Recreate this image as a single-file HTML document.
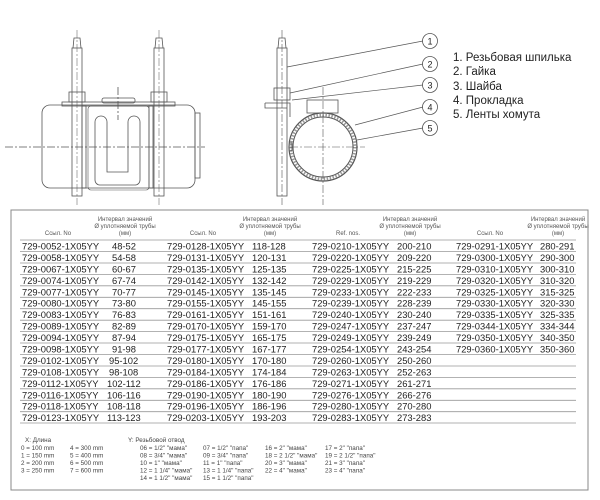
<!DOCTYPE html>
<html><head><meta charset="utf-8"><style>
html,body{margin:0;padding:0;background:#fff;}
svg{display:block;}
.c{font-family:"Liberation Sans",sans-serif;font-size:9.4px;fill:#222;}
.h{font-family:"Liberation Sans",sans-serif;font-size:6px;fill:#555;}
.l{font-family:"Liberation Sans",sans-serif;font-size:6.3px;fill:#444;}
.g{font-family:"Liberation Sans","DejaVu Sans",sans-serif;font-size:11.5px;fill:#222;}
</style></head><body>
<svg width="600" height="500" viewBox="0 0 600 500" xmlns="http://www.w3.org/2000/svg">
<g fill="none" stroke="#555" stroke-width="0.8">
<rect x="42" y="105" width="153" height="83" rx="8"/>
<rect x="195" y="113" width="5" height="65"/>
<rect x="62" y="102" width="113" height="4"/>
<rect x="102" y="98" width="33" height="5" rx="2"/>
<path d="M95 180 V122 a6 6 0 0 1 12 0 V172 h21 V122 a6 6 0 0 1 12 0 V180 a5 5 0 0 1 -5 5 H100 a5 5 0 0 1 -5 -5 Z"/>
<rect x="88" y="106" width="61" height="84" rx="3" stroke-width="0.6"/>
<rect x="72" y="48" width="10" height="148"/>
<rect x="154" y="48" width="10" height="148"/>
<path d="M73 48 L74 38 H80 L81 48 M155 48 L156 38 H162 L163 48"/>
<rect x="69" y="92" width="16" height="10"/>
<rect x="151" y="92" width="16" height="10"/>
<rect x="82" y="106" width="4" height="82"/>
<rect x="149" y="106" width="4" height="82"/>
<path d="M5 147 H205 M118 87 V120" stroke-dasharray="8 2 2 2"/>
<path d="M77 30 V205 M159 30 V205" stroke-dasharray="8 2 2 2" stroke-width="0.5"/>
<rect x="277" y="48" width="10" height="148"/>
<path d="M278 48 L279 38 H285 L286 48"/>
<rect x="274" y="88" width="16" height="12"/>
<path d="M265 103 H290 V117 M265 103 V108 H287"/>
<rect x="307" y="100" width="31" height="13"/>
<circle cx="323" cy="147" r="34" stroke-width="1.2"/>
<circle cx="323" cy="147" r="30" stroke-width="1"/>
<circle cx="323" cy="147" r="32" stroke="#999" stroke-width="3" stroke-dasharray="1.5 1.5"/>
<path d="M289 143 H292 V151 H289"/>
<path d="M282 30 V205 M323 87 V205 M290 147 H365" stroke-dasharray="8 2 2 2" stroke-width="0.6"/>
<path d="M287 67 L423 41 M290 93 L423 64 M292 100 L423 85 M355 125 L423 107 M357 140 L423 128" stroke-width="0.7"/>
<circle cx="430" cy="41" r="7.5"/><circle cx="430" cy="64" r="7.5"/><circle cx="430" cy="85" r="7.5"/><circle cx="430" cy="107" r="7.5"/><circle cx="430" cy="128" r="7.5"/>
</g>
<g font-family="Liberation Sans,sans-serif" font-size="9" fill="#222" text-anchor="middle">
<text x="430" y="44.5">1</text><text x="430" y="67.5">2</text><text x="430" y="88.5">3</text><text x="430" y="110.5">4</text><text x="430" y="131.5">5</text>
</g>
<text class="g" x="453" y="61">1. Резьбовая шпилька</text>
<text class="g" x="453" y="75">2. Гайка</text>
<text class="g" x="453" y="90">3. Шайба</text>
<text class="g" x="453" y="104">4. Прокладка</text>
<text class="g" x="453" y="118">5. Ленты хомута</text>

<rect x="11" y="210" width="577" height="280" fill="none" stroke="#888" stroke-width="1"/>
<g stroke="#999" stroke-width="0.8">
<line x1="20" y1="240" x2="576" y2="240"/><line x1="20" y1="251.5" x2="576" y2="251.5"/><line x1="20" y1="263" x2="576" y2="263"/><line x1="20" y1="274.4" x2="576" y2="274.4"/><line x1="20" y1="285.8" x2="576" y2="285.8"/><line x1="20" y1="297.3" x2="576" y2="297.3"/><line x1="20" y1="308.7" x2="576" y2="308.7"/><line x1="20" y1="320.2" x2="576" y2="320.2"/><line x1="20" y1="331.6" x2="576" y2="331.6"/><line x1="20" y1="343" x2="576" y2="343"/><line x1="20" y1="354.5" x2="576" y2="354.5"/><line x1="20" y1="366" x2="576" y2="366"/><line x1="20" y1="377.4" x2="576" y2="377.4"/><line x1="20" y1="388.8" x2="576" y2="388.8"/><line x1="20" y1="400.3" x2="576" y2="400.3"/><line x1="20" y1="411.7" x2="576" y2="411.7"/><line x1="20" y1="423" x2="576" y2="423"/>
</g>
<g class="h" text-anchor="middle">
<text x="58" y="235">Ссыл. No</text><text x="125" y="221">Интервал значений</text><text x="125" y="228">Ø уплотняемой трубы</text><text x="125" y="235">(мм)</text>
<text x="203" y="235">Ссыл. No</text><text x="270" y="221">Интервал значений</text><text x="270" y="228">Ø уплотняемой трубы</text><text x="270" y="235">(мм)</text>
<text x="348" y="235">Ref. nos.</text><text x="410" y="221">Интервал значений</text><text x="410" y="228">Ø уплотняемой трубы</text><text x="410" y="235">(мм)</text>
<text x="490" y="235">Ссыл. No</text><text x="558" y="221">Интервал значений</text><text x="558" y="228">Ø уплотняемой трубы</text><text x="558" y="235">(мм)</text>
</g>
<g class="c">
<text x="22" y="249.5">729-0052-1X05YY</text><text x="112" y="249.5">48-52</text><text x="167" y="249.5">729-0128-1X05YY</text><text x="252" y="249.5">118-128</text><text x="312" y="249.5">729-0210-1X05YY</text><text x="397" y="249.5">200-210</text><text x="456" y="249.5">729-0291-1X05YY</text><text x="540" y="249.5">280-291</text>
<text x="22" y="261">729-0058-1X05YY</text><text x="112" y="261">54-58</text><text x="167" y="261">729-0131-1X05YY</text><text x="252" y="261">120-131</text><text x="312" y="261">729-0220-1X05YY</text><text x="397" y="261">209-220</text><text x="456" y="261">729-0300-1X05YY</text><text x="540" y="261">290-300</text>
<text x="22" y="272.4">729-0067-1X05YY</text><text x="112" y="272.4">60-67</text><text x="167" y="272.4">729-0135-1X05YY</text><text x="252" y="272.4">125-135</text><text x="312" y="272.4">729-0225-1X05YY</text><text x="397" y="272.4">215-225</text><text x="456" y="272.4">729-0310-1X05YY</text><text x="540" y="272.4">300-310</text>
<text x="22" y="283.8">729-0074-1X05YY</text><text x="112" y="283.8">67-74</text><text x="167" y="283.8">729-0142-1X05YY</text><text x="252" y="283.8">132-142</text><text x="312" y="283.8">729-0229-1X05YY</text><text x="397" y="283.8">219-229</text><text x="456" y="283.8">729-0320-1X05YY</text><text x="540" y="283.8">310-320</text>
<text x="22" y="295.3">729-0077-1X05YY</text><text x="112" y="295.3">70-77</text><text x="167" y="295.3">729-0145-1X05YY</text><text x="252" y="295.3">135-145</text><text x="312" y="295.3">729-0233-1X05YY</text><text x="397" y="295.3">222-233</text><text x="456" y="295.3">729-0325-1X05YY</text><text x="540" y="295.3">315-325</text>
<text x="22" y="306.7">729-0080-1X05YY</text><text x="112" y="306.7">73-80</text><text x="167" y="306.7">729-0155-1X05YY</text><text x="252" y="306.7">145-155</text><text x="312" y="306.7">729-0239-1X05YY</text><text x="397" y="306.7">228-239</text><text x="456" y="306.7">729-0330-1X05YY</text><text x="540" y="306.7">320-330</text>
<text x="22" y="318.2">729-0083-1X05YY</text><text x="112" y="318.2">76-83</text><text x="167" y="318.2">729-0161-1X05YY</text><text x="252" y="318.2">151-161</text><text x="312" y="318.2">729-0240-1X05YY</text><text x="397" y="318.2">230-240</text><text x="456" y="318.2">729-0335-1X05YY</text><text x="540" y="318.2">325-335</text>
<text x="22" y="329.6">729-0089-1X05YY</text><text x="112" y="329.6">82-89</text><text x="167" y="329.6">729-0170-1X05YY</text><text x="252" y="329.6">159-170</text><text x="312" y="329.6">729-0247-1X05YY</text><text x="397" y="329.6">237-247</text><text x="456" y="329.6">729-0344-1X05YY</text><text x="540" y="329.6">334-344</text>
<text x="22" y="341">729-0094-1X05YY</text><text x="112" y="341">87-94</text><text x="167" y="341">729-0175-1X05YY</text><text x="252" y="341">165-175</text><text x="312" y="341">729-0249-1X05YY</text><text x="397" y="341">239-249</text><text x="456" y="341">729-0350-1X05YY</text><text x="540" y="341">340-350</text>
<text x="22" y="352.5">729-0098-1X05YY</text><text x="112" y="352.5">91-98</text><text x="167" y="352.5">729-0177-1X05YY</text><text x="252" y="352.5">167-177</text><text x="312" y="352.5">729-0254-1X05YY</text><text x="397" y="352.5">243-254</text><text x="456" y="352.5">729-0360-1X05YY</text><text x="540" y="352.5">350-360</text>
<text x="22" y="364">729-0102-1X05YY</text><text x="109" y="364">95-102</text><text x="167" y="364">729-0180-1X05YY</text><text x="252" y="364">170-180</text><text x="312" y="364">729-0260-1X05YY</text><text x="397" y="364">250-260</text>
<text x="22" y="375.4">729-0108-1X05YY</text><text x="109" y="375.4">98-108</text><text x="167" y="375.4">729-0184-1X05YY</text><text x="252" y="375.4">174-184</text><text x="312" y="375.4">729-0263-1X05YY</text><text x="397" y="375.4">252-263</text>
<text x="22" y="386.8">729-0112-1X05YY</text><text x="107" y="386.8">102-112</text><text x="167" y="386.8">729-0186-1X05YY</text><text x="252" y="386.8">176-186</text><text x="312" y="386.8">729-0271-1X05YY</text><text x="397" y="386.8">261-271</text>
<text x="22" y="398.3">729-0116-1X05YY</text><text x="107" y="398.3">106-116</text><text x="167" y="398.3">729-0190-1X05YY</text><text x="252" y="398.3">180-190</text><text x="312" y="398.3">729-0276-1X05YY</text><text x="397" y="398.3">266-276</text>
<text x="22" y="409.7">729-0118-1X05YY</text><text x="107" y="409.7">108-118</text><text x="167" y="409.7">729-0196-1X05YY</text><text x="252" y="409.7">186-196</text><text x="312" y="409.7">729-0280-1X05YY</text><text x="397" y="409.7">270-280</text>
<text x="22" y="421">729-0123-1X05YY</text><text x="107" y="421">113-123</text><text x="167" y="421">729-0203-1X05YY</text><text x="252" y="421">193-203</text><text x="312" y="421">729-0283-1X05YY</text><text x="397" y="421">273-283</text>
</g>
<g class="l">
<text x="25" y="442">X: Длина</text>
<text x="21" y="450">0 = 100 mm</text><text x="70" y="450">4 = 300 mm</text>
<text x="21" y="457.5">1 = 150 mm</text><text x="70" y="457.5">5 = 400 mm</text>
<text x="21" y="465">2 = 200 mm</text><text x="70" y="465">6 = 500 mm</text>
<text x="21" y="472.5">3 = 250 mm</text><text x="70" y="472.5">7 = 600 mm</text>
<text x="128" y="442">Y: Резьбовой отвод</text>
<text x="140" y="450">06 = 1/2" "мама"</text><text x="203" y="450">07 = 1/2" "папа"</text><text x="265" y="450">16 = 2" "мама"</text><text x="325" y="450">17 = 2"  "папа"</text>
<text x="140" y="457.5">08 =  3/4" "мама"</text><text x="203" y="457.5">09 = 3/4" "папа"</text><text x="265" y="457.5">18 = 2 1/2" "мама"</text><text x="325" y="457.5">19 = 2 1/2" "папа"</text>
<text x="140" y="465">10 = 1" "мама"</text><text x="203" y="465">11 = 1" "папа"</text><text x="265" y="465">20 = 3" "мама"</text><text x="325" y="465">21 = 3" "папа"</text>
<text x="140" y="472.5">12 = 1 1/4" "мама"</text><text x="203" y="472.5">13 = 1 1/4" "папа"</text><text x="265" y="472.5">22 = 4"  "мама"</text><text x="325" y="472.5">23 = 4"  "папа"</text>
<text x="140" y="480">14 = 1 1/2" "мама"</text><text x="203" y="480">15 = 1 1/2" "папа"</text>
</g>
</svg>
</body></html>
